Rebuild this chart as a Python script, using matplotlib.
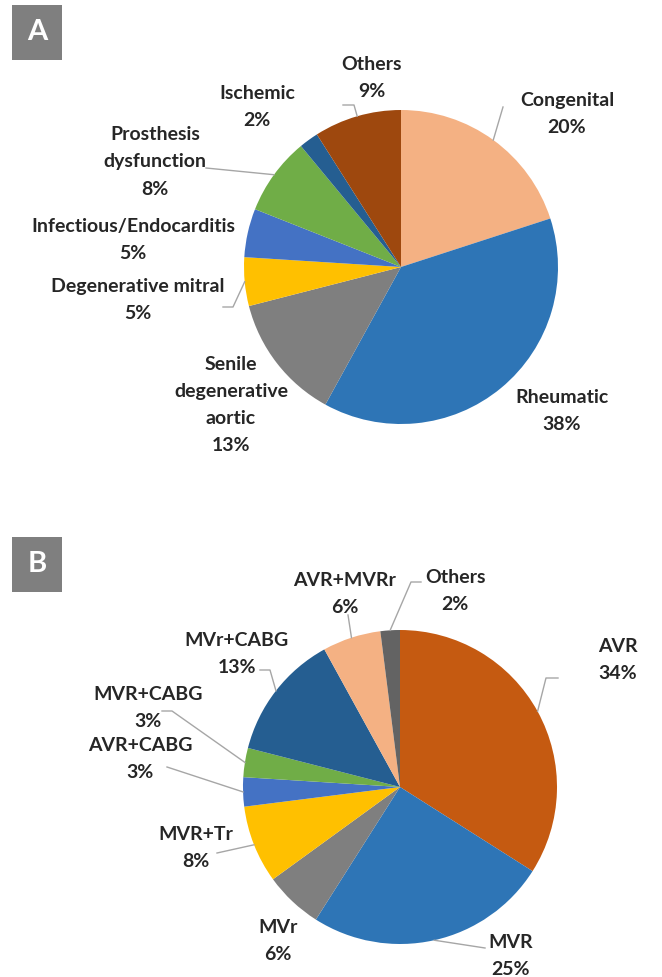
import matplotlib
matplotlib.use("Agg")
import numpy as np
import matplotlib.pyplot as plt

plt.rcParams['font.family'] = ['Lato', 'DejaVu Sans']

# Panel A: etiology
a_labels = ['Congenital', 'Rheumatic', 'Senile\ndegenerative\naortic', 'Degenerative mitral',
            'Infectious/Endocarditis', 'Prosthesis\ndysfunction', 'Ischemic', 'Others']
a_values = [20, 38, 13, 5, 5, 8, 2, 9]
a_colors = ['#F4B183', '#2E75B6', '#7F7F7F', '#FFC000', '#4472C4', '#70AD47', '#255E91', '#9E480E']

# Panel B: surgical procedure
b_labels = ['AVR', 'MVR', 'MVr', 'MVR+Tr', 'AVR+CABG', 'MVR+CABG', 'MVr+CABG', 'AVR+MVRr', 'Others']
b_values = [34, 25, 6, 8, 3, 3, 13, 6, 2]
b_colors = ['#C55A11', '#2E75B6', '#7F7F7F', '#FFC000', '#4472C4', '#70AD47', '#255E91', '#F4B183', '#636363']

W, H = 662, 977
fig = plt.figure(figsize=(W / 100, H / 100), dpi=100)
ax = fig.add_axes([0, 0, 1, 1])


def py(y):
    # pixel row (from top) -> data y
    return H - y


# label placement (pixel coords from top) and leader elbows, per panel
a_text_pos = [(567, 114), (562, 411), (231, 405), (138, 300), (133, 240), (155, 162), (257, 107), (372, 78)]
a_leaders = [[(503, 107)], None, None, [(233, 307), (223, 307)], None, [(206, 168)], None,
             [(354, 105), (343, 105)]]
b_text_pos = [(618, 660), (511, 956), (278, 941), (196, 848), (140, 759), (148, 708), (237, 654),
              (345, 594), (455, 591)]
b_leaders = [[(546, 678), (558, 678)], [(485, 948)], None, [(217, 853)], [(167, 767)],
             [(172, 711), (162, 711)], [(270, 670), (260, 670)], [(348, 615)], [(411, 582), (421, 582)]]


def draw_pie(values, labels, colors, center, r, text_pos, leaders):
    wedges, _ = ax.pie(values, colors=colors, startangle=90, counterclock=False,
                       center=(center[0], py(center[1])), radius=r, frame=True,
                       wedgeprops=dict(linewidth=0))
    total = sum(values)
    for w, lab, v, tp, ld in zip(wedges, labels, values, text_pos, leaders):
        ax.text(tp[0], py(tp[1]), f"{lab}\n{round(100 * v / total)}%", ha='center', va='center',
                fontsize=14, fontweight='bold', color='#262626', linespacing=1.72)
        if ld:
            ang = np.deg2rad((w.theta1 + w.theta2) / 2)
            x0 = center[0] + r * np.cos(ang)
            y0 = py(center[1]) + r * np.sin(ang)
            xs = [x0] + [p[0] for p in ld]
            ys = [y0] + [py(p[1]) for p in ld]
            ax.plot(xs, ys, color='#A6A6A6', lw=1)


draw_pie(a_values, a_labels, a_colors, (401, 267), 157, a_text_pos, a_leaders)
draw_pie(b_values, b_labels, b_colors, (400, 787), 157, b_text_pos, b_leaders)

ax.set_xlim(0, W)
ax.set_ylim(0, H)
ax.set_aspect('equal')
ax.axis('off')

# panel letters
for letter, top in [('A', 5), ('B', 537)]:
    ax.add_patch(plt.Rectangle((12, py(top + 55)), 50, 55, color='#7F7F7F', lw=0))
    ax.text(37, py(top + 27), letter, ha='center', va='center', fontsize=21,
            fontweight='bold', color='white')

fig.savefig('out.png', dpi=100)
